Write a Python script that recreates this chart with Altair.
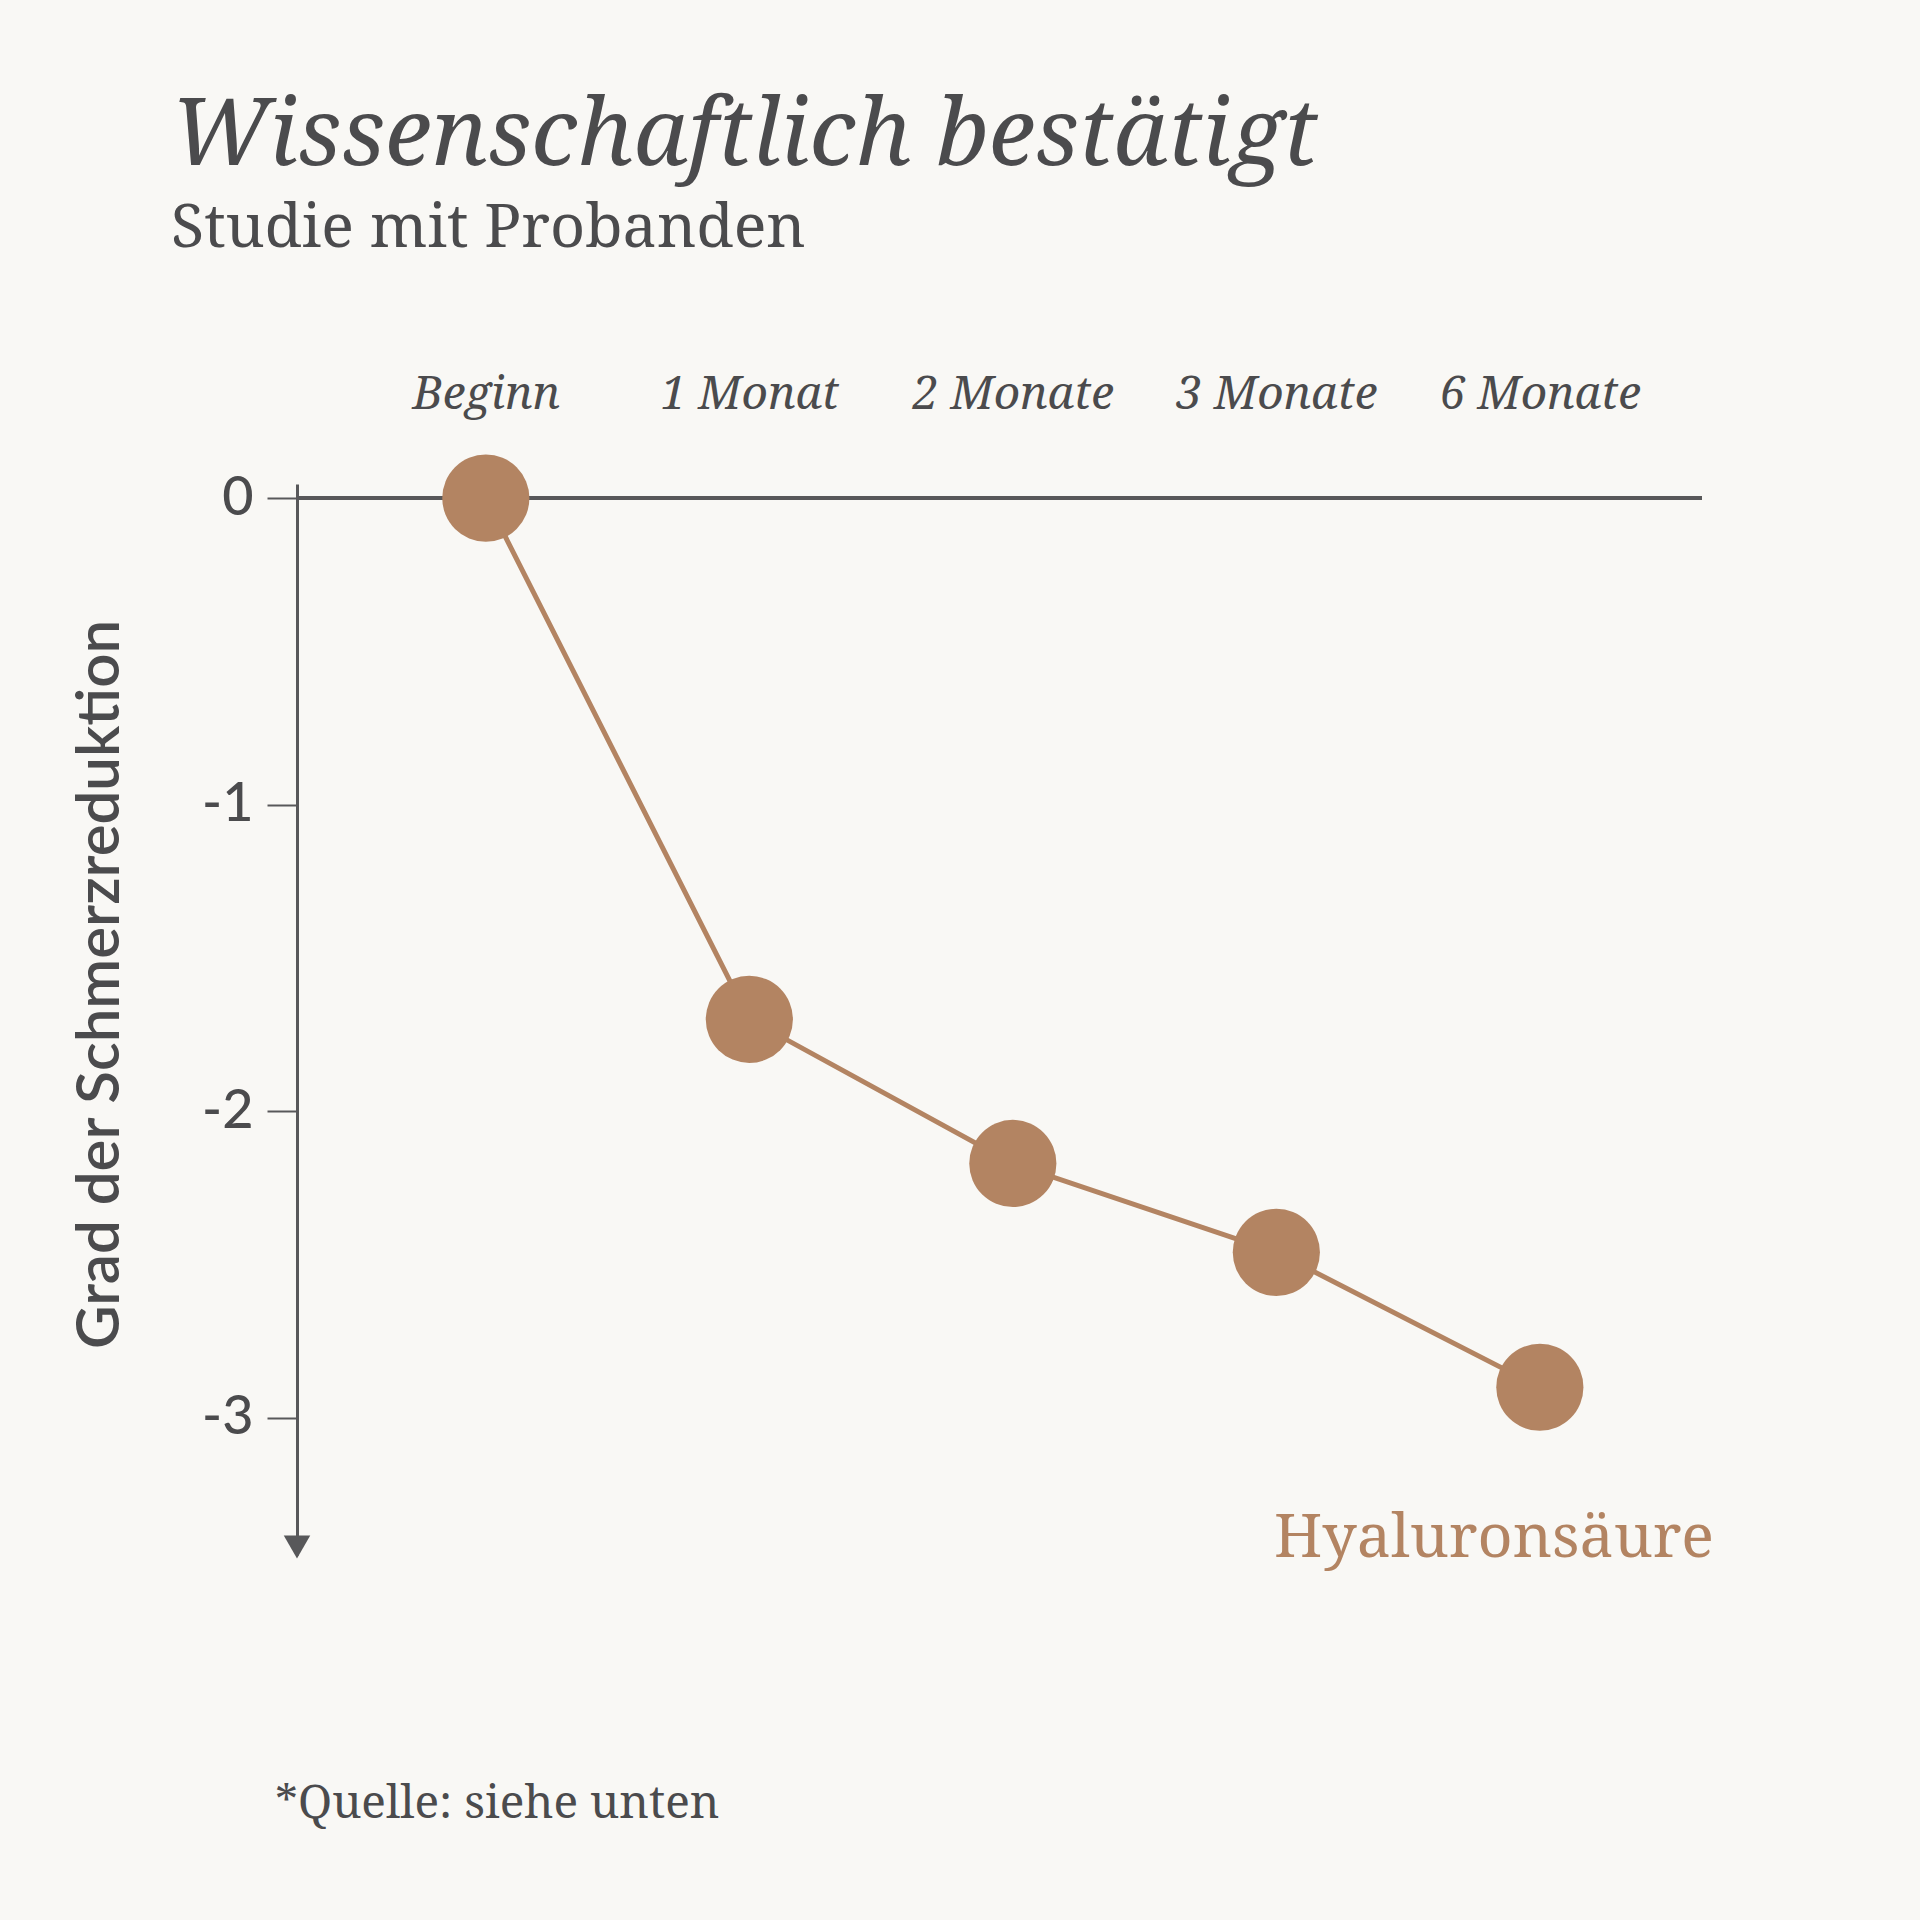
import altair as alt
import pandas as pd

# ---- data ----
categories = ["Beginn", "1 Monat", "2 Monate", "3 Monate", "6 Monate"]
values = [0.0, -1.7, -2.17, -2.46, -2.9]
y_ticks = [0, -1, -2, -3]
series_name = "Hyaluronsäure"
title_text = "Wissenschaftlich bestätigt"
subtitle_text = "Studie mit Probanden"
y_title = "Grad der Schmerzreduktion"
footnote = "*Quelle: siehe unten"

df = pd.DataFrame({"Zeitpunkt": categories, "Wert": values})

# ---- style ----
W, H = 1405, 1071
BG = "#f9f8f5"
BROWN = "#b38462"
INK = "#4b4b4d"
AXIS = "#58585a"
SERIF = "Noto Serif, DejaVu Serif, serif"
SANS = "Lato, Open Sans, sans-serif"

x_scale = alt.Scale(type="point", padding=0.666, align=0.538)
x_enc = alt.X(
    "Zeitpunkt:O",
    sort=categories,
    scale=x_scale,
    axis=alt.Axis(
        orient="top", title=None, domain=False, ticks=False, grid=False,
        labelAngle=0, labelFont=SERIF, labelFontStyle="italic", labelLimit=0,
        labelFontSize=46, labelColor=INK, labelPadding=66,
    ),
)
y_scale = alt.Scale(domain=[-3.447, 0.046], nice=False, zero=False)
y_enc = alt.Y(
    "Wert:Q",
    scale=y_scale,
    axis=alt.Axis(
        values=y_ticks, labelExpr="toString(datum.value)", grid=False,
        domainColor=AXIS, domainWidth=3,
        tickColor=AXIS, tickWidth=2, tickSize=30,
        labelFont=SANS, labelFontSize=54, labelFontWeight=500,
        labelColor=INK, labelPadding=14,
        title=y_title, titleFont=SANS, titleFontSize=60, titleFontWeight=600,
        titleColor=INK, titleAngle=-90, titleX=-197, titleY=500,
        titleAlign="center", titleBaseline="middle",
    ),
)

base = alt.Chart(df)

line = base.mark_line(color=BROWN, strokeWidth=5).encode(x=x_enc, y=y_enc)
zero_rule = base.mark_rule(color=AXIS, strokeWidth=3.5).encode(y=alt.datum(0))
points = base.mark_circle(color=BROWN, opacity=1, size=7600).encode(
    x=alt.X("Zeitpunkt:O", sort=categories), y="Wert:Q"
)

one = pd.DataFrame({"t": [series_name]})
arrow = alt.Chart(one).mark_point(
    shape="triangle-down", filled=True, color=AXIS, size=700, opacity=1
).encode(x=alt.value(0), y=alt.value(H - 8))

series_label = alt.Chart(one).mark_text(
    font=SERIF, fontSize=61, color=BROWN, align="right", baseline="alphabetic"
).encode(x=alt.value(1417), y=alt.value(1073), text="t:N")

foot = alt.Chart(pd.DataFrame({"t": [footnote]})).mark_text(
    font=SERIF, fontSize=46, color=INK, align="left", baseline="alphabetic"
).encode(x=alt.value(-22), y=alt.value(1334), text="t:N")

chart = (
    alt.layer(line, zero_rule, points, arrow, series_label, foot)
    .properties(
        width=W,
        height=H,
        background=BG,
        autosize=alt.AutoSizeParams(type="none"),
        padding={"left": 297, "top": 484, "right": 218, "bottom": 365},
        title=alt.TitleParams(
            text=title_text,
            subtitle=subtitle_text,
            anchor="start",
            frame="group",
            dx=-126,
            offset=111,
            font=SERIF,
            fontStyle="italic",
            fontWeight="normal",
            fontSize=94,
            color=INK,
            subtitleFont=SERIF,
            subtitleFontSize=61,
            subtitleColor=INK,
            subtitlePadding=14,
        ),
    )
    .configure_view(stroke=None)
)

chart.save("out.html", embed_options={"renderer": "svg", "actions": False})
